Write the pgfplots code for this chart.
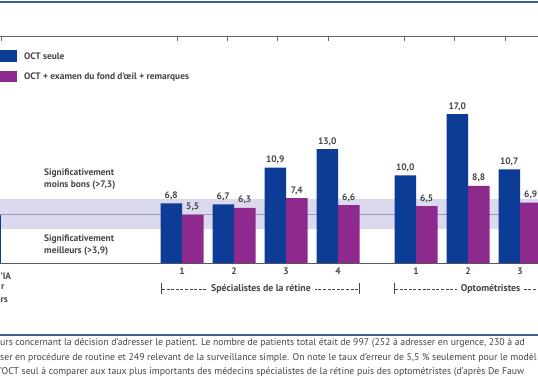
\documentclass[border=0pt]{standalone}
\usepackage{pgfplots}
\pgfplotsset{compat=1.18}
\usepackage{fontspec}
\setmainfont{PT Sans}
\definecolor{ocblue}{HTML}{0D3C96}
\definecolor{ocpurple}{HTML}{8E2A8E}
\definecolor{band}{HTML}{DBD9EE}
\definecolor{midline}{HTML}{9C9ABB}
\definecolor{txt}{HTML}{454545}
\definecolor{rulec}{HTML}{3A5F8A}
\newcommand{\lbl}{\bfseries\fontsize{9.4}{10}\selectfont}
\newcommand{\grp}{\bfseries\fontsize{9.8}{10}\selectfont}
\newcommand{\capf}{\fontsize{9.75}{11}\selectfont}
\begin{document}
\begin{tikzpicture}[x=1pt,y=1pt]
\path[use as bounding box] (0,-121) rectangle (538,263);
\clip (0,-121) rectangle (538,263);
\fill[white] (0,-121) rectangle (538,263);
% top rules
\draw[rulec, line width=1.3pt] (0,261) -- (538,261);
\draw[gray!80!black, line width=0.6pt] (0,227) -- (538,227);
\foreach \x in {1,177,227,277,328,404,454,505} \draw[gray!80!black, line width=0.6pt] (\x,227) -- (\x,222);
% legend
\fill[ocblue] (-2,213) rectangle (17,201);
\node[anchor=west, inner sep=0, font=\lbl, text=txt] at (24,207) {OCT seule};
\fill[ocpurple] (-2,192) rectangle (17,181);
\node[anchor=west, inner sep=0, font=\lbl, text=txt] at (24,186) {OCT + examen du fond d’œil + remarques};
\begin{axis}[
  at={(0,0)}, anchor=south west,
  width=538pt, height=263pt, scale only axis,
  xmin=0, xmax=538, ymin=0, ymax=30.02,
  axis y line=none, axis x line*=bottom,
  x axis line style={-, draw=gray!70!black, line width=0.7pt},
  xtick={182,234,286,338,416,468,520},
  xticklabels={1,2,3,4,1,2,3},
  major tick length=0pt,
  xticklabel style={font=\lbl, text=txt, yshift=-1pt},
  /pgf/number format/assume math mode=true,
  clip=true,
  nodes near coords style={font=\lbl, text=txt},
]
\addplot[fill=band, draw=none] coordinates {(0,3.9) (538,3.9) (538,7.3) (0,7.3)} -- cycle;
\addplot[midline, line width=0.8pt] coordinates {(0,5.5) (538,5.5)};
\addplot[ybar, bar width=21.5, bar shift=0pt, fill=ocblue, draw=none] coordinates {(-9.75,5.5)};
\addplot[ybar, bar width=21.5, bar shift=0pt, fill=ocblue, draw=none,
  nodes near coords={\pgfmathprintnumber[fixed,fixed zerofill,precision=1,use comma,assume math mode=true]{\pgfplotspointmeta}}]
  coordinates {(171.25,6.8) (223.25,6.7) (275.25,10.9) (327.25,13.0) (405.25,10.0) (457.25,17.0) (509.25,10.7)};
\addplot[ybar, bar width=21.5, bar shift=0pt, fill=ocpurple, draw=none,
  nodes near coords={\pgfmathprintnumber[fixed,fixed zerofill,precision=1,use comma,assume math mode=true]{\pgfplotspointmeta}}]
  coordinates {(192.75,5.5) (244.75,6.3) (296.75,7.4) (348.75,6.6) (426.75,6.5) (478.75,8.8) (530.75,6.9)};
\end{axis}
% significance labels
\node[anchor=west, inner sep=0, font=\lbl, text=txt] at (44,90) {Significativement};
\node[anchor=west, inner sep=0, font=\lbl, text=txt] at (44,78) {moins bons (>7,3)};
\node[anchor=west, inner sep=0, font=\lbl, text=txt] at (44,24) {Significativement};
\node[anchor=west, inner sep=0, font=\lbl, text=txt] at (44,12) {meilleurs (>3,9)};
% left cut labels
\node[anchor=west, inner sep=0, font=\lbl, text=txt] at (0.5,-13) {’IA};
\node[anchor=west, inner sep=0, font=\lbl, text=txt] at (1,-24) {r};
\node[anchor=west, inner sep=0, font=\lbl, text=txt] at (0.5,-37) {rs};
% group labels
\draw[txt, line width=0.6pt, dash pattern=on 3pt off 1.6pt] (162,-26) -- (359,-26);
\draw[txt, line width=1pt] (161,-31) -- (161,-20);
\draw[txt, line width=1pt] (359,-31) -- (359,-20);
\node[fill=white, inner xsep=4pt, inner ysep=1pt, font=\grp, text=txt] at (261,-26) {Spécialistes de la rétine};
\draw[txt, line width=0.6pt, dash pattern=on 3pt off 1.6pt] (395,-26) -- (540,-26);
\draw[txt, line width=1pt] (394.5,-31) -- (394.5,-20);
\node[fill=white, inner xsep=4pt, inner ysep=1pt, font=\grp, text=txt] at (490.5,-26) {Optométristes};
% caption
\draw[rulec, line width=1.3pt] (0,-72) -- (538,-72);
\node[anchor=west, inner sep=0, font=\capf, text=txt] at (0,-80) {urs concernant la décision d’adresser le patient. Le nombre de patients total était de 997 (252 à adresser en urgence, 230 à ad};
\node[anchor=west, inner sep=0, font=\capf, text=txt] at (0,-94.5) {ser en procédure de routine et 249 relevant de la surveillance simple. On note le taux d’erreur de 5,5 \% seulement pour le modèl};
\node[anchor=west, inner sep=0, font=\capf, text=txt] at (0,-109) {’OCT seul à comparer aux taux plus importants des médecins spécialistes de la rétine puis des optométristes (d’après De Fauw};
\end{tikzpicture}
\end{document}
